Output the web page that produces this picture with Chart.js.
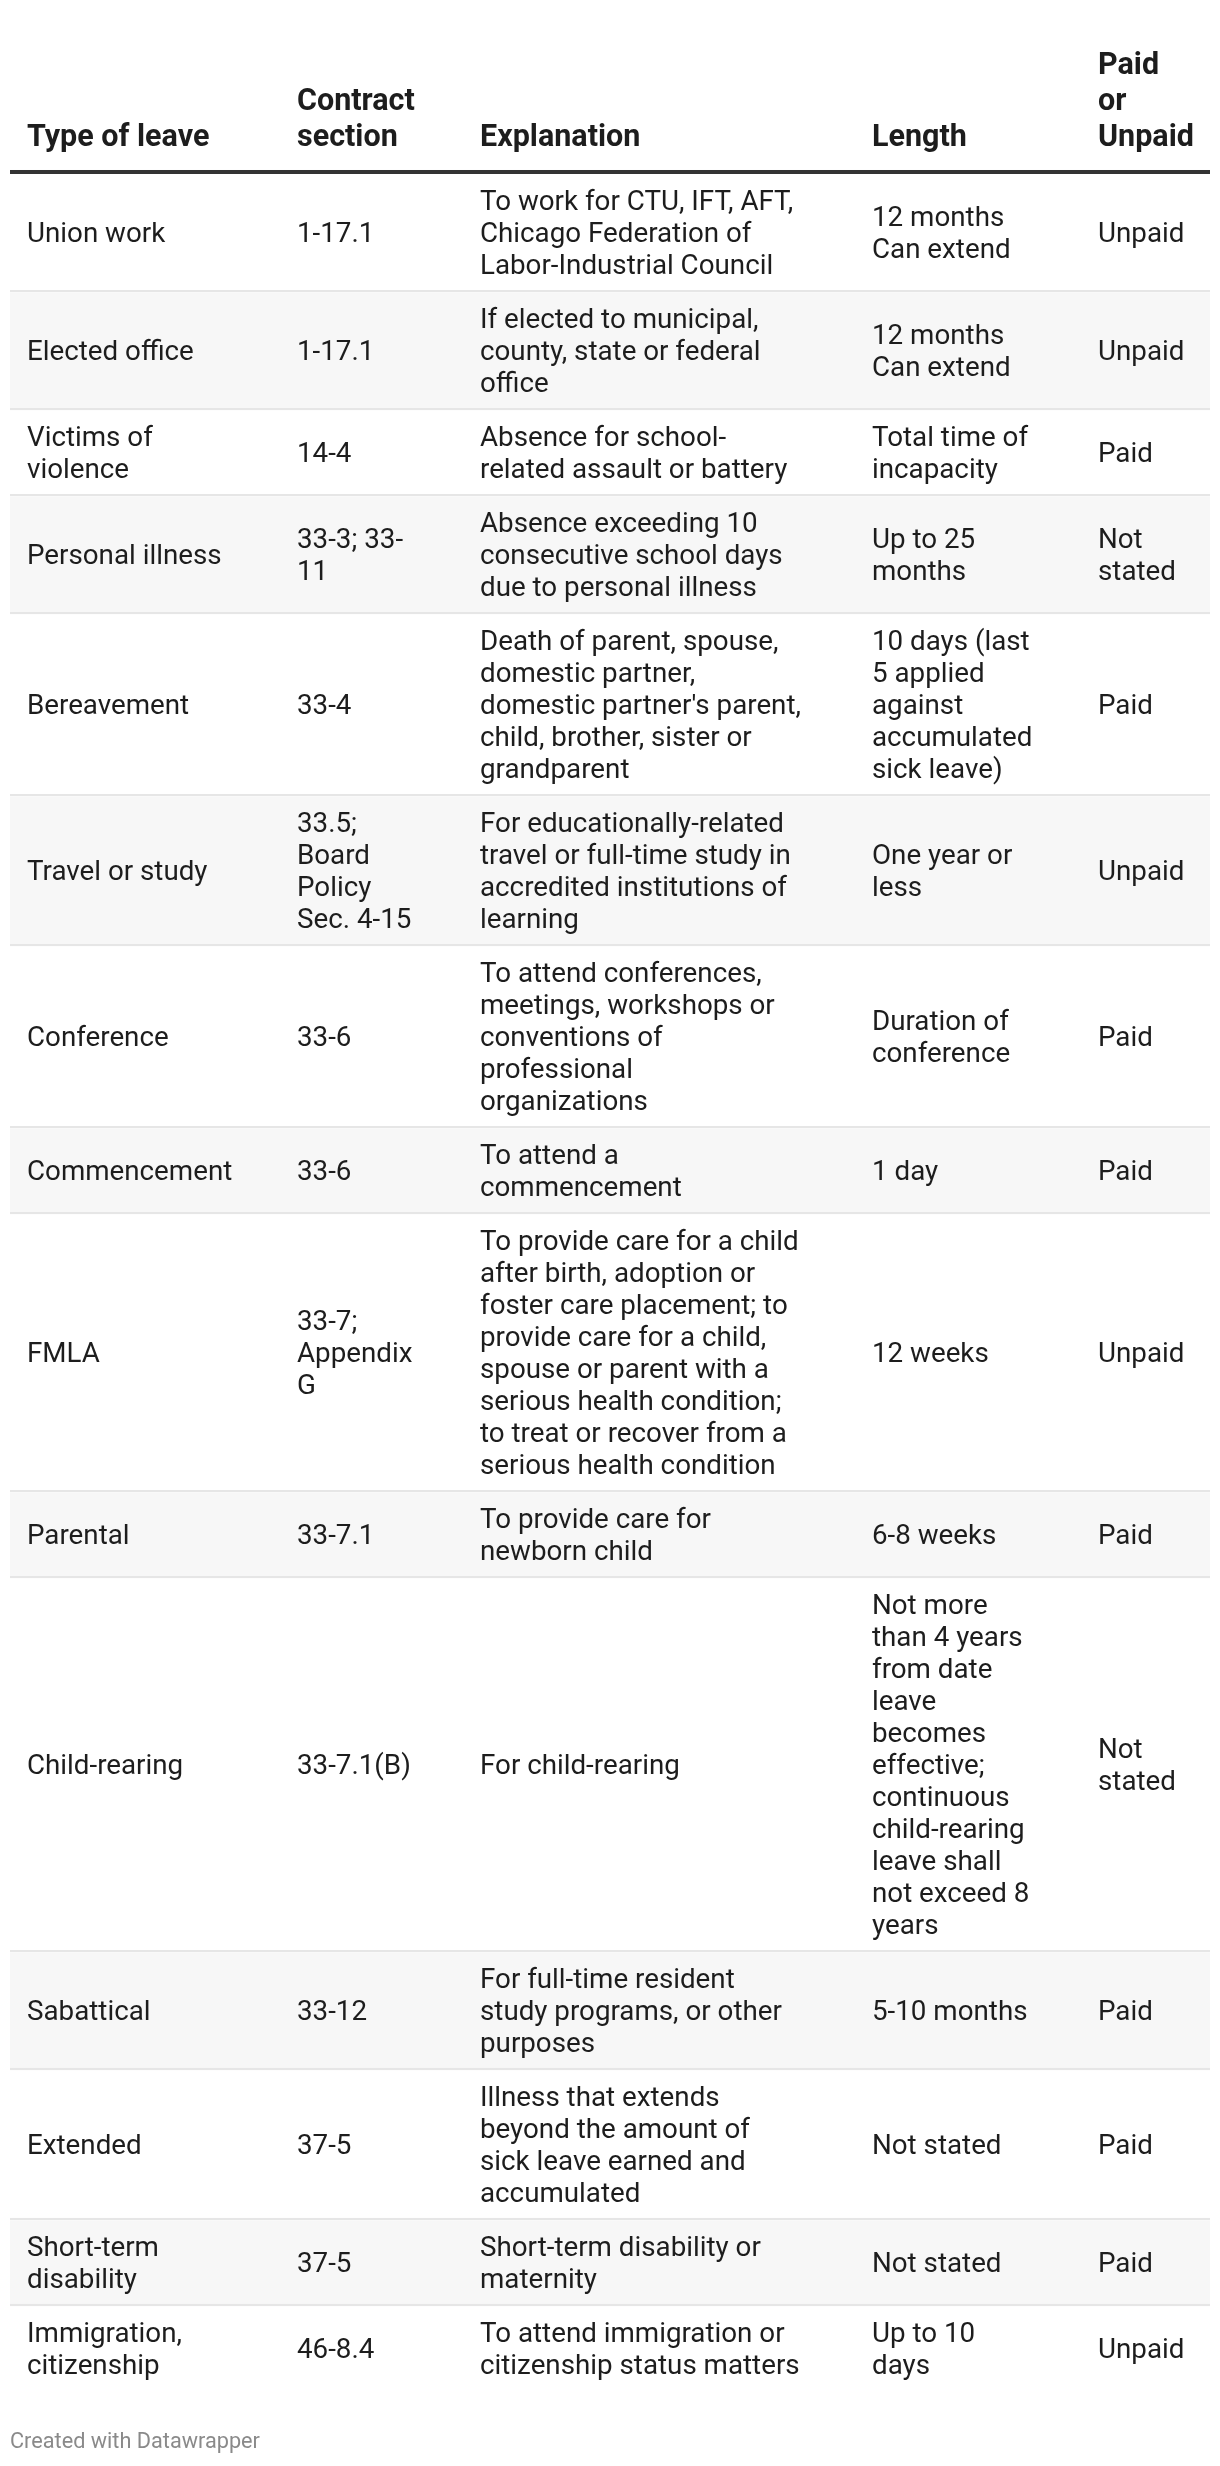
<!DOCTYPE html>
<html lang="en">
<head>
  <meta charset="UTF-8">
  <title>Types of leave</title>
  <script src="https://cdn.jsdelivr.net/npm/chart.js"></script>
  <style>
    * {
      box-sizing: border-box;
    }

    body {
      margin: 0;
      padding: 0;
      background: #ffffff;
    }

    canvas {
      display: block;
    }
  </style>
</head>
<body>
<canvas id="leaveTable" width="1220" height="2466"></canvas>

<script>
  // Table content
  const headers = ['Type of leave', 'Contract section', 'Explanation', 'Length', 'Paid or Unpaid'];

  const leaveTypes = [
    'Union work', 'Elected office', 'Victims of violence', 'Personal illness', 'Bereavement',
    'Travel or study', 'Conference', 'Commencement', 'FMLA', 'Parental',
    'Child-rearing', 'Sabattical', 'Extended', 'Short-term disability', 'Immigration, citizenship'
  ];

  const sections = [
    '1-17.1', '1-17.1', '14-4', '33-3; 33-11', '33-4',
    '33.5; Board Policy Sec. 4-15', '33-6', '33-6', '33-7; Appendix G', '33-7.1',
    '33-7.1(B)', '33-12', '37-5', '37-5', '46-8.4'
  ];

  const explanations = [
    'To work for CTU, IFT, AFT, Chicago Federation of Labor-Industrial Council',
    'If elected to municipal, county, state or federal office',
    'Absence for school-related assault or battery',
    'Absence exceeding 10 consecutive school days due to personal illness',
    "Death of parent, spouse, domestic partner, domestic partner's parent, child, brother, sister or grandparent",
    'For educationally-related travel or full-time study in accredited institutions of learning',
    'To attend conferences, meetings, workshops or conventions of professional organizations',
    'To attend a commencement',
    'To provide care for a child after birth, adoption or foster care placement; to provide care for a child, spouse or parent with a serious health condition; to treat or recover from a serious health condition',
    'To provide care for newborn child',
    'For child-rearing',
    'For full-time resident study programs, or other purposes',
    'Illness that extends beyond the amount of sick leave earned and accumulated',
    'Short-term disability or maternity',
    'To attend immigration or citizenship status matters'
  ];

  const lengths = [
    '12 months Can extend', '12 months Can extend', 'Total time of incapacity', 'Up to 25 months',
    '10 days (last 5 applied against accumulated sick leave)', 'One year or less', 'Duration of conference',
    '1 day', '12 weeks', '6-8 weeks',
    'Not more than 4 years from date leave becomes effective; continuous child-rearing leave shall not exceed 8 years',
    '5-10 months', 'Not stated', 'Not stated', 'Up to 10 days'
  ];

  const payStatus = [
    'Unpaid', 'Unpaid', 'Paid', 'Not stated', 'Paid',
    'Unpaid', 'Paid', 'Paid', 'Unpaid', 'Paid',
    'Not stated', 'Paid', 'Paid', 'Paid', 'Unpaid'
  ];

  const columns = [leaveTypes, sections, explanations, lengths, payStatus];

  // Layout
  const colStart = [17, 287, 470, 862, 1088];   // text start on the column scale (0..1200)
  const colWrap = [220, 125, 324, 164, 96.5];    // usable text width per column
  const bodySize = 27.75, bodyLine = 32, rowPad = 22;
  const headSize = 30.5, headLine = 36;
  const headerUnits = 5;                          // header height in body lines
  const textColor = '#1d1d1d';

  const measureCtx = document.createElement('canvas').getContext('2d');

  // greedy wrapping, breaks at spaces and after hyphens like the browser does
  function wrapText(ctx, text, maxWidth) {
    const pieces = [];
    text.split(' ').forEach((word, w) => {
      word.match(/[^-]+-?|-/g).forEach((p, i) => pieces.push({ text: p, space: w > 0 && i === 0 }));
    });
    const lines = [];
    let line = '';
    pieces.forEach(p => {
      const candidate = line + (line && p.space ? ' ' : '') + p.text;
      if (line && ctx.measureText(candidate).width > maxWidth) {
        lines.push(line);
        line = p.text;
      } else {
        line = candidate;
      }
    });
    if (line) lines.push(line);
    return lines;
  }

  function buildChart() {
    measureCtx.font = `${bodySize}px Roboto`;
    const cellLines = leaveTypes.map((_, r) => columns.map((col, c) => wrapText(measureCtx, col[r], colWrap[c])));
    const rowUnits = cellLines.map(cells => Math.max(...cells.map(l => l.length)) + rowPad / bodyLine);

    measureCtx.font = `bold ${headSize}px Roboto`;
    const headLines = headers.map((h, c) => wrapText(measureCtx, h, colWrap[c]));

    const totalUnits = headerUnits + rowUnits.reduce((a, b) => a + b, 0);

    // one stacked segment per table row, header first
    const datasets = [{
      label: 'Header',
      data: [headerUnits],
      backgroundColor: '#ffffff'
    }].concat(rowUnits.map((u, r) => ({
      label: leaveTypes[r],
      data: [u],
      backgroundColor: r % 2 ? '#f7f7f7' : '#ffffff'
    })));

    const tableText = {
      id: 'tableText',
      afterDatasetsDraw(chart) {
        const ctx = chart.ctx;
        const y = chart.scales.y;
        const xCol = chart.scales.col;
        const { left, right } = chart.chartArea;

        ctx.save();
        ctx.textAlign = 'left';
        ctx.textBaseline = 'alphabetic';

        // row separators
        let start = headerUnits;
        rowUnits.forEach((u, r) => {
          const bottom = y.getPixelForValue(start + u);
          if (r < rowUnits.length - 1) {
            ctx.fillStyle = '#e6e6e6';
            ctx.fillRect(left, bottom - 2, right - left, 2);
          }
          start += u;
        });

        // header rule
        const ruleY = y.getPixelForValue(headerUnits);
        ctx.fillStyle = '#333333';
        ctx.fillRect(left, ruleY - 4, right - left, 4);

        // header text, bottom aligned
        ctx.font = `bold ${headSize}px Roboto`;
        ctx.fillStyle = textColor;
        headLines.forEach((lines, c) => {
          const x = xCol.getPixelForValue(colStart[c]);
          lines.forEach((t, i) => {
            ctx.fillText(t, x, ruleY - 28 - headLine * (lines.length - 1 - i));
          });
        });

        // body cells, vertically centred
        ctx.font = `${bodySize}px Roboto`;
        const baseOffset = (bodyLine - 1.171 * bodySize) / 2 + 0.927 * bodySize;
        start = headerUnits;
        rowUnits.forEach((u, r) => {
          const top = y.getPixelForValue(start);
          const bottom = y.getPixelForValue(start + u);
          const mid = (top + bottom) / 2;
          cellLines[r].forEach((lines, c) => {
            const x = xCol.getPixelForValue(colStart[c]);
            const blockTop = mid - lines.length * bodyLine / 2;
            lines.forEach((t, i) => ctx.fillText(t, x, blockTop + i * bodyLine + baseOffset));
          });
          start += u;
        });
        ctx.restore();
      }
    };

    new Chart(document.getElementById('leaveTable'), {
      type: 'bar',
      data: { labels: ['table'], datasets },
      options: {
        responsive: false,
        animation: false,
        events: [],
        layout: { padding: { left: 10, right: 10, top: 14, bottom: 0 } },
        datasets: {
          bar: { barPercentage: 1, categoryPercentage: 1, borderWidth: 0 }
        },
        scales: {
          x: { stacked: true, display: false },
          y: { stacked: true, display: false, reverse: true, min: 0, max: totalUnits },
          col: {
            type: 'linear', axis: 'x', position: 'bottom', display: false,
            offset: false, grid: { offset: false }, min: 0, max: 1200
          }
        },
        plugins: {
          legend: { display: false },
          tooltip: { enabled: false },
          title: {
            display: true,
            position: 'bottom',
            align: 'start',
            text: 'Created with Datawrapper',
            color: '#8a8a8a',
            font: { family: 'Roboto', size: 21.7, weight: 'normal', lineHeight: 1.2 },
            padding: { top: 37.4, bottom: 10.6 }
          }
        }
      },
      plugins: [tableText]
    });
  }

  Promise.all([
    document.fonts.load(`${bodySize}px Roboto`),
    document.fonts.load(`bold ${headSize}px Roboto`)
  ]).then(buildChart, buildChart);
</script>
</body>
</html>
